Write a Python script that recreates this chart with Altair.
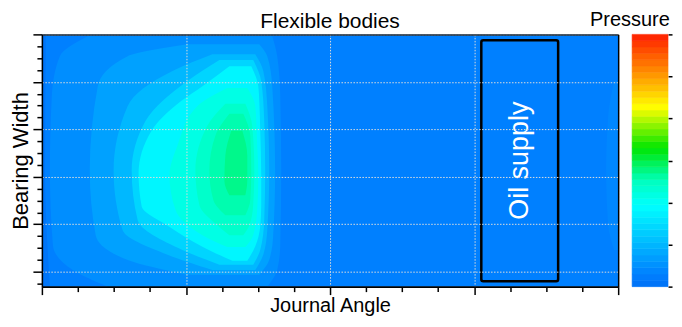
import altair as alt
import pandas as pd

FONT = "Liberation Sans"

# ---------------- axes ----------------
angle_domain = [0, 360]
width_domain = [-0.3125, 5]
angle_major = [0, 90, 180, 270, 360]
angle_minor = [22.5, 45, 67.5, 112.5, 135, 157.5, 202.5, 225, 247.5, 292.5, 315, 337.5]
width_major = [0, 1, 2, 3, 4, 5]
width_minor = [-0.25, 0.25, 0.5, 0.75, 1.25, 1.5, 1.75, 2.25, 2.5, 2.75,
               3.25, 3.5, 3.75, 4.25, 4.5, 4.75]

# ---------------- pressure colour map ----------------
pressure_stops = [0, 0.05, 0.32, 0.42, 0.55, 0.71, 0.84, 1.0]
pressure_colors = ["#0070F5", "#0080FF", "#00FFFF", "#00FFBE", "#00E600",
                   "#FFFF00", "#FF9600", "#FF1E00"]
cbar_ticks = [0, 1 / 6, 2 / 6, 3 / 6, 4 / 6, 5 / 6, 1]
cbar_steps = 40

background_pressure = 0.05

# ---------------- pressure contour bands (width position, left / right angle) ----------------
edge_p = 0.015
edge_y = [5.0, 2.13, -0.3125]
edge_l = [0.0, 0.0, 0.0]
edge_r = [2.5, 2.0, 5.0]

right_p = 0.065
right_y = [4.02, 3.28, 2.13, 0.98, 0.46]
right_l = [357.5, 353.8, 352.5, 353.8, 357.5]
right_r = [360, 360, 360, 360, 360]

lvl1_p = 0.08
lvl1_y = [4.96, 4.54, 3.70, 2.13, 0.56, 0.04, -0.31]
lvl1_l = [28.6, 11.2, 6.2, 5.0, 6.9, 19.3, 41.1]
lvl1_r = [143.9, 147.0, 148.9, 149.5, 148.9, 147.0, 140.8]

lvl2_p = 0.12
lvl2_y = [4.79, 4.54, 3.91, 2.13, 0.77, 0.25, -0.06]
lvl2_l = [90.9, 53.6, 34.9, 29.9, 33.6, 53.6, 90.9]
lvl2_r = [135.8, 140.8, 143.9, 145.7, 144.5, 142.0, 135.8]

lvl3_p = 0.17
lvl3_y = [4.58, 4.23, 3.49, 2.13, 0.88, 0.36, 0.04]
lvl3_l = [106.5, 81.6, 53.6, 44.8, 50.4, 78.5, 106.5]
lvl3_r = [133.3, 138.3, 140.8, 142.0, 140.8, 138.3, 133.3]

lvl4_p = 0.23
lvl4_y = [4.46, 4.02, 3.18, 2.13, 1.09, 0.46, 0.15]
lvl4_l = [110.9, 90.9, 64.8, 56.1, 59.8, 87.8, 110.9]
lvl4_r = [132.0, 137.0, 138.9, 139.5, 138.9, 136.4, 132.0]

lvl5_p = 0.30
lvl5_y = [4.33, 3.91, 3.60, 2.97, 2.07, 1.38, 0.96, 0.54, 0.23]
lvl5_l = [117.1, 100.3, 87.2, 68.5, 60.4, 62.3, 79.1, 99.7, 119.0]
lvl5_r = [130.8, 135.2, 135.8, 136.4, 137.0, 137.0, 136.4, 133.3, 128.3]

lvl6_p = 0.36
lvl6_y = [3.87, 3.49, 2.66, 2.03, 1.30, 0.77, 0.52]
lvl6_l = [115.8, 97.2, 84.7, 79.7, 83.5, 100.3, 115.8]
lvl6_r = [128.3, 133.3, 134.5, 135.2, 134.5, 132.0, 127.1]

lvl7_p = 0.40
lvl7_y = [3.54, 3.08, 2.13, 1.40, 0.98, 0.77]
lvl7_l = [114.6, 103.4, 95.9, 98.4, 109.6, 117.1]
lvl7_r = [127.1, 131.4, 132.7, 132.0, 129.6, 125.8]

lvl8_p = 0.43
lvl8_y = [3.33, 2.87, 2.13, 1.51, 1.19]
lvl8_l = [117.1, 108.4, 104.6, 107.1, 114.6]
lvl8_r = [125.8, 130.2, 130.8, 130.2, 127.1]

lvl9_p = 0.455
lvl9_y = [2.97, 2.45, 1.92, 1.61]
lvl9_l = [118.3, 114.6, 114.0, 117.1]
lvl9_r = [125.2, 128.3, 128.3, 127.1]

# ---------------- oil supply annotation ----------------
oil_angle = [274.5, 322.5]
oil_width = [-0.2, 4.875]
oil_label = "Oil supply"
oil_label_angle = 299
oil_label_width = 2.34

# =====================================================
PLOT_W, PLOT_H = 578, 253

xs = alt.Scale(domain=angle_domain, nice=False, zero=False)
ys = alt.Scale(domain=width_domain, nice=False, zero=False)
cs = alt.Scale(type="linear", domain=pressure_stops, range=pressure_colors,
               interpolate="rgb", clamp=True)

grid_style = dict(gridColor="#dcdcdc", gridDash=[1.5, 1.5], gridWidth=1)

major_x_axis = alt.Axis(orient="bottom", values=angle_major, tickSize=8, labels=False,
                        grid=True, title="Journal Angle", titlePadding=0, zindex=1,
                        domainColor="black", domainWidth=2, tickColor="black",
                        tickWidth=1.5, titleFont=FONT, titleFontSize=20,
                        titleFontWeight="normal", titleColor="black", **grid_style)
major_y_axis = alt.Axis(orient="left", values=width_major, tickSize=9, labels=False,
                        grid=True, title="Bearing Width", titlePadding=0, zindex=1,
                        domainColor="black", domainWidth=1.5, tickColor="black",
                        tickWidth=1.5, titleFont=FONT, titleFontSize=22,
                        titleFontWeight="normal", titleColor="black", **grid_style)
minor_x_axis = alt.Axis(orient="bottom", values=angle_minor, tickSize=5, labels=False,
                        grid=False, domain=False, title=None, zindex=1,
                        tickColor="black", tickWidth=1.5)
minor_y_axis = alt.Axis(orient="left", values=width_minor, tickSize=5, labels=False,
                        grid=False, domain=False, title=None, zindex=1,
                        tickColor="black", tickWidth=1.5)
frame_x_axis = alt.Axis(orient="top", ticks=False, labels=False, grid=False,
                        domainColor="#333333", domainWidth=1.5, title=None, zindex=1)
frame_y_axis = alt.Axis(orient="right", ticks=False, labels=False, grid=False,
                        domainColor="black", domainWidth=1.5, title=None, zindex=1)

bg_df = pd.DataFrame({"a0": [angle_domain[0]], "a1": [angle_domain[1]],
                      "w0": [width_domain[0]], "w1": [width_domain[1]],
                      "p": [background_pressure]})
bg_layer = alt.Chart(bg_df).mark_rect().encode(
    x=alt.X("a0:Q", scale=xs, axis=major_x_axis), x2="a1:Q",
    y=alt.Y("w0:Q", scale=ys, axis=major_y_axis), y2="w1:Q",
    color=alt.Color("p:Q", scale=cs, legend=None),
)

levels = [
    (edge_p, edge_y, edge_l, edge_r),
    (right_p, right_y, right_l, right_r),
    (lvl1_p, lvl1_y, lvl1_l, lvl1_r),
    (lvl2_p, lvl2_y, lvl2_l, lvl2_r),
    (lvl3_p, lvl3_y, lvl3_l, lvl3_r),
    (lvl4_p, lvl4_y, lvl4_l, lvl4_r),
    (lvl5_p, lvl5_y, lvl5_l, lvl5_r),
    (lvl6_p, lvl6_y, lvl6_l, lvl6_r),
    (lvl7_p, lvl7_y, lvl7_l, lvl7_r),
    (lvl8_p, lvl8_y, lvl8_l, lvl8_r),
    (lvl9_p, lvl9_y, lvl9_l, lvl9_r),
]
area_layers = []
for p, wy, al, ar in levels:
    df = pd.DataFrame({"w": wy, "a0": al, "a1": ar, "p": [p] * len(wy)})
    area_layers.append(
        alt.Chart(df).mark_area(orient="horizontal", interpolate="monotone", clip=True).encode(
            y=alt.Y("w:Q", scale=ys, axis=None),
            x=alt.X("a0:Q", scale=xs, axis=None), x2="a1:Q",
            color=alt.Color("p:Q", scale=cs, legend=None),
        )
    )

box_df = pd.DataFrame({"a0": [oil_angle[0]], "a1": [oil_angle[1]],
                       "w0": [oil_width[0]], "w1": [oil_width[1]]})
box_layer = alt.Chart(box_df).mark_rect(fillOpacity=0, stroke="black", strokeWidth=2.5,
                                        cornerRadius=2).encode(
    x=alt.X("a0:Q", scale=xs, axis=minor_x_axis), x2="a1:Q",
    y=alt.Y("w0:Q", scale=ys, axis=minor_y_axis), y2="w1:Q",
)

text_df = pd.DataFrame({"a": [oil_label_angle], "w": [oil_label_width], "label": [oil_label]})
text_layer = alt.Chart(text_df).mark_text(angle=270, color="white", font=FONT, fontSize=27,
                                          align="center", baseline="middle").encode(
    x=alt.X("a:Q", scale=xs, axis=frame_x_axis),
    y=alt.Y("w:Q", scale=ys, axis=frame_y_axis),
    text="label:N",
)

main = alt.layer(bg_layer, *area_layers, box_layer, text_layer).resolve_axis(
    x="independent", y="independent"
).properties(
    width=PLOT_W, height=PLOT_H,
    title=alt.TitleParams("Flexible bodies", font=FONT, fontSize=21, fontWeight="normal",
                          color="black", offset=2, anchor="middle"),
)

cbar_df = pd.DataFrame({
    "lo": [i / cbar_steps for i in range(cbar_steps)],
    "hi": [(i + 1) / cbar_steps for i in range(cbar_steps)],
    "p": [(i + 0.5) / cbar_steps for i in range(cbar_steps)],
    "c0": [0] * cbar_steps,
    "c1": [1] * cbar_steps,
})
cbar = alt.Chart(cbar_df).mark_rect(strokeWidth=0.6).encode(
    x=alt.X("c0:Q", scale=alt.Scale(domain=[0, 1], nice=False), axis=None), x2="c1:Q",
    y=alt.Y("lo:Q", scale=alt.Scale(domain=[0, 1], nice=False),
            axis=alt.Axis(orient="right", values=cbar_ticks, tickSize=4, labels=False,
                          domain=False, grid=False, title=None, tickColor="black",
                          tickWidth=1.5)),
    y2="hi:Q",
    color=alt.Color("p:Q", scale=cs, legend=None),
    stroke=alt.Stroke("p:Q", scale=cs, legend=None),
).properties(
    width=36, height=PLOT_H,
    title=alt.TitleParams("Pressure", font=FONT, fontSize=20, fontWeight="normal",
                          color="black", offset=4, anchor="end", dx=-3),
)

chart = alt.hconcat(main, cbar, spacing=14, bounds="flush").properties(
    padding=0, background="white"
).configure_view(stroke="transparent")

chart.save("out.html", embed_options={"renderer": "svg", "actions": False})
